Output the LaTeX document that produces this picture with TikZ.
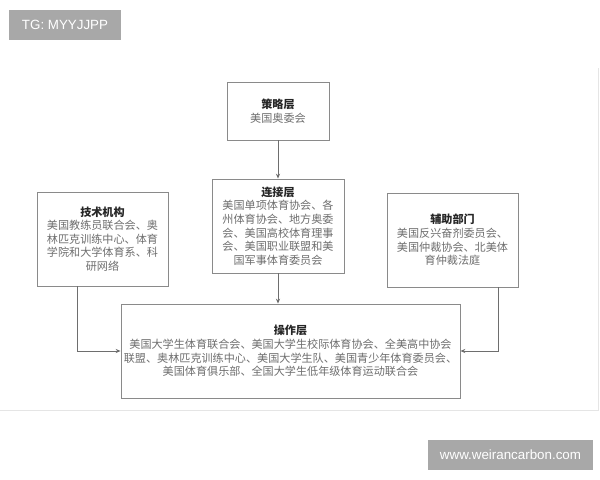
\documentclass[tikz,border=0pt]{standalone}
\usepackage{fontspec}
\setmainfont{Liberation Sans}
\newfontfamily\cjk{Noto Sans CJK SC}
\usetikzlibrary{arrows.meta}
\definecolor{boxline}{HTML}{8A8A8A}
\definecolor{txtgray}{HTML}{6E6E6E}
\definecolor{tagbg}{HTML}{A8A8A8}
\tikzset{
  layer/.style={draw=boxline, line width=0.6pt, fill=white, align=center, inner sep=2pt,
    font=\cjk\fontsize{7.9}{9.7}\selectfont, text=txtgray},
  link/.style={draw=boxline!80!black, line width=0.6pt, -{Stealth[length=3.5pt,width=3pt]}},
  tag/.style={fill=tagbg, text=white, inner sep=0pt, font=\fontsize{9.5}{10}\selectfont}
}
\newcommand{\ttl}[1]{{\color{black!85}\bfseries #1}\\}
\begin{document}
\begin{tikzpicture}[x=0.025cm,y=-0.025cm]
\useasboundingbox (0,0) rectangle (600,480);
% 图片边框
\draw[black!10, line width=0.5pt] (0,410) -- (598,410) -- (598,68);

% 五个层级
\node[layer, minimum width=2.55cm, minimum height=1.45cm] (strategy) at (278,111)
  {\ttl{策略层}美国奥委会};
\node[layer, minimum width=3.3cm, minimum height=2.35cm] (connect) at (278,226)
  {\ttl{连接层}美国单项体育协会、各\\州体育协会、地方奥委\\会、美国高校体育理事\\会、美国职业联盟和美\\国军事体育委员会};
\node[layer, minimum width=3.275cm, minimum height=2.35cm] (tech) at (102.5,239)
  {\ttl{技术机构}美国教练员联合会、奥\\林匹克训练中心、体育\\学院和大学体育系、科\\研网络};
\node[layer, minimum width=3.275cm, minimum height=2.35cm] (aux) at (452.5,240)
  {\ttl{辅助部门}美国反兴奋剂委员会、\\美国仲裁协会、北美体\\育仲裁法庭};
\node[layer, minimum width=8.475cm, minimum height=2.35cm] (operate) at (290.5,351)
  {\ttl{操作层}美国大学生体育联合会、美国大学生校际体育协会、全美高中协会\\联盟、奥林匹克训练中心、美国大学生队、美国青少年体育委员会、\\美国体育俱乐部、全国大学生低年级体育运动联合会};

% 连线
\draw[link] (strategy) -- (connect);
\draw[link] (connect.south) -- (connect.south |- operate.north);
\draw[link] (tech.south -| 77,0) |- (operate.west);
\draw[link] (aux.south -| 498,0) |- (operate.east);

% 水印
\node[tag, minimum width=2.8cm, minimum height=0.75cm] (tg) at (65,25) {TG: MYYJJPP};
\node[tag, minimum width=4.125cm, minimum height=0.75cm] (web) at (510.5,455) {www.weirancarbon.com};
\end{tikzpicture}
\end{document}
